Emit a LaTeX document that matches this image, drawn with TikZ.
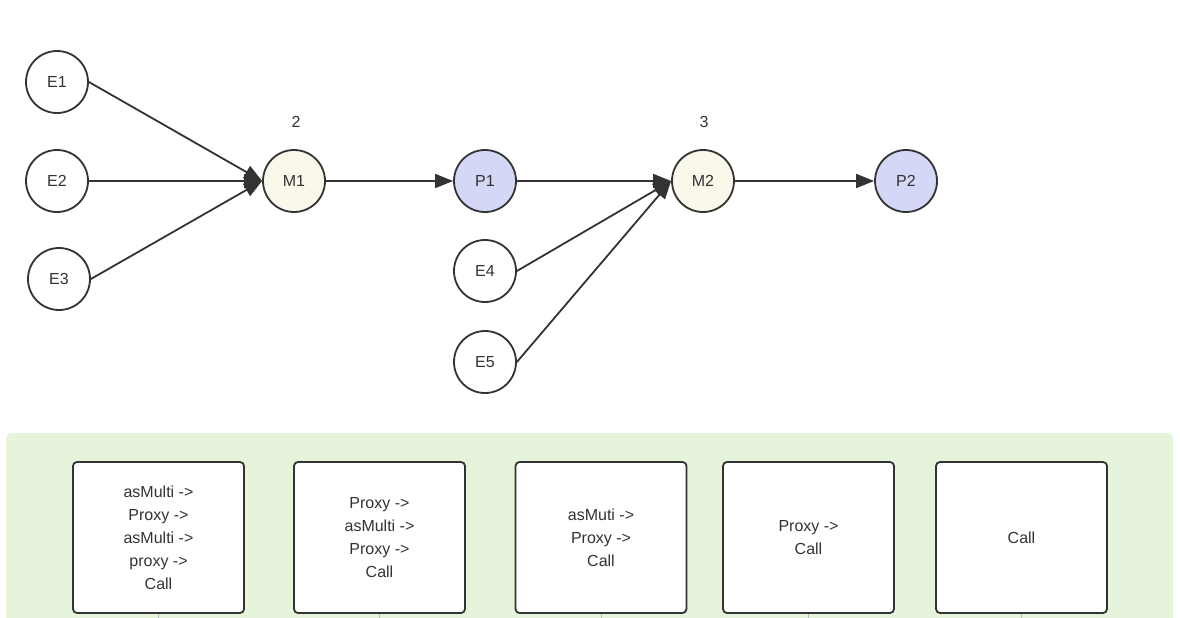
\documentclass[tikz,border=0pt]{standalone}
\usepackage{fontspec}
\setmainfont{Liberation Sans}
\usetikzlibrary{arrows.meta}
\definecolor{edgecol}{HTML}{333333}
\definecolor{mfill}{HTML}{F9F8EB}
\definecolor{pfill}{HTML}{D5D7F6}
\definecolor{bggreen}{HTML}{E6F4DC}
\definecolor{tickgray}{HTML}{BBBBBB}
\tikzset{
  circ/.style={circle, draw=edgecol, line width=1.8pt, minimum size=62pt, inner sep=0pt, fill=white,
    font=\fontsize{16}{19}\selectfont, text=edgecol},
  mnode/.style={circ, fill=mfill},
  pnode/.style={circ, fill=pfill},
  conn/.style={draw=edgecol, line width=1.8pt, -{Triangle[length=18pt,width=14pt]}},
  lbl/.style={font=\fontsize{16}{19}\selectfont, text=edgecol},
  card/.style={draw=edgecol, line width=1.8pt, rounded corners=4pt, fill=white,
    minimum width=171pt, minimum height=151pt, inner sep=0pt, align=center,
    font=\fontsize{16}{23}\selectfont, text=edgecol},
  tick/.style={draw=tickgray, line width=1pt}
}
\begin{document}
\begin{tikzpicture}[x=1pt, y=-1pt]
\useasboundingbox (0,0) rectangle (1180,618);
% green background panel
\fill[bggreen, rounded corners=5pt] (6,433) rectangle (1173,640);
% graph nodes
\node[circ] (E1) at (57,82) {E1};
\node[circ] (E2) at (57,181) {E2};
\node[circ] (E3) at (59,279) {E3};
\node[mnode] (M1) at (294,181) {M1};
\node[pnode] (P1) at (485,181) {P1};
\node[mnode] (M2) at (703,181) {M2};
\node[pnode] (P2) at (906,181) {P2};
\node[circ] (E4) at (485,271) {E4};
\node[circ] (E5) at (485,362) {E5};
\node[lbl] (L2) at (296,122) {2};
\node[lbl] (L3) at (704,122) {3};
% connectors
\draw[conn] (E1.east) -- (M1.west);
\draw[conn] (E2.east) -- (M1.west);
\draw[conn] (E3.east) -- (M1.west);
\draw[conn] (M1.east) -- (P1.west);
\draw[conn] (P1.east) -- (M2.west);
\draw[conn] (E4.east) -- (M2.west);
\draw[conn] (E5.east) -- (M2.west);
\draw[conn] (M2.east) -- (P2.west);
% cards
\node[card] (C1) at (158.5,537.5) {asMulti ->\\Proxy ->\\asMulti ->\\proxy ->\\Call};
\node[card] (C2) at (379.5,537.5) {Proxy ->\\asMulti ->\\Proxy ->\\Call};
\node[card] (C3) at (601,537.5) {asMuti ->\\Proxy ->\\Call};
\node[card] (C4) at (808.5,537.5) {Proxy ->\\Call};
\node[card] (C5) at (1021.5,537.5) {Call};
% lines leaving the cards downward (cut off)
\coordinate (T1) at (158.5,630);
\coordinate (T2) at (379.5,630);
\coordinate (T3) at (601,630);
\coordinate (T4) at (808.5,630);
\coordinate (T5) at (1021.5,630);
\draw[tick] (C1.south) -- (T1);
\draw[tick] (C2.south) -- (T2);
\draw[tick] (C3.south) -- (T3);
\draw[tick] (C4.south) -- (T4);
\draw[tick] (C5.south) -- (T5);
\end{tikzpicture}
\end{document}
